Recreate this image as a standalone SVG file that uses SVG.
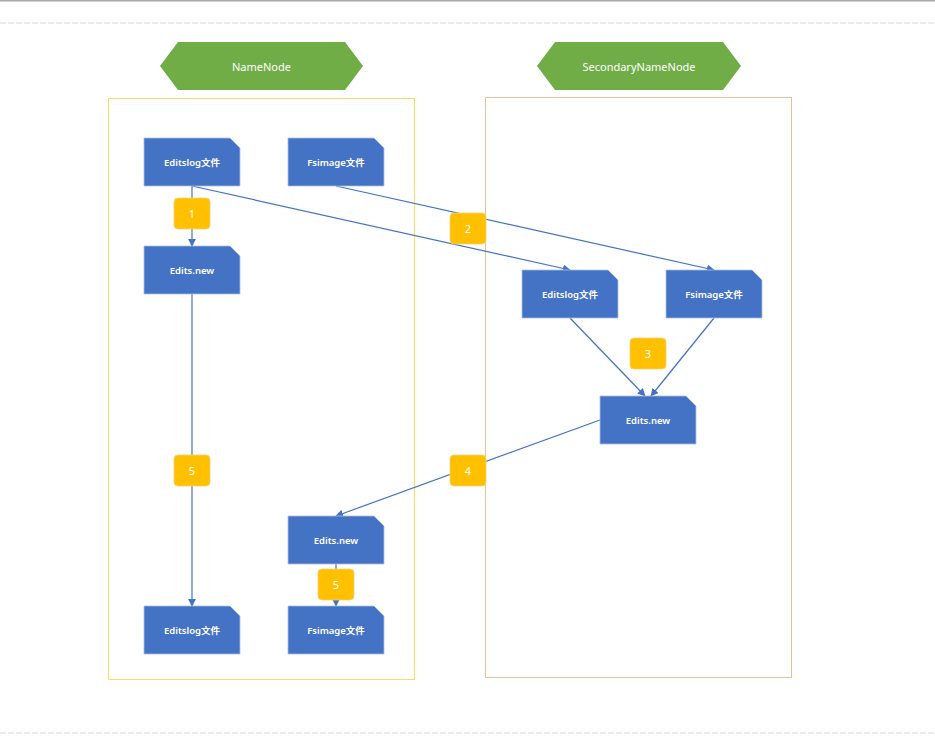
<svg xmlns="http://www.w3.org/2000/svg" width="935" height="756" viewBox="0 0 935 756">
<style>
.hex{fill:#70AD47;}
.ht{fill:#fff;font-family:"Noto Sans","Noto Sans CJK SC",sans-serif;font-size:11px;text-anchor:middle;dominant-baseline:central;}
.box{fill:#4472C4;stroke:#A9BEE3;stroke-width:0.8;}
.bt{fill:#fff;font-family:"Noto Sans","Noto Sans CJK SC",sans-serif;font-size:9.5px;font-weight:600;text-anchor:middle;dominant-baseline:central;}
.badge{fill:#FFC000;stroke:#F2D27A;stroke-width:0.8;}
.nt{fill:#fff;font-family:"Noto Sans",sans-serif;font-size:11px;text-anchor:middle;dominant-baseline:central;}
.ln{stroke:#4472C4;stroke-width:1.2;fill:none;marker-end:url(#ah);}
</style>
<defs>
<marker id="ah" viewBox="0 0 10 10" refX="9" refY="5" markerWidth="8" markerHeight="8" markerUnits="userSpaceOnUse" orient="auto">
<path d="M0,0 L10,5 L0,10 Z" fill="#4472C4"/>
</marker>
</defs>
<rect width="935" height="756" fill="#fff"/>
<line x1="0" y1="0.8" x2="935" y2="0.8" stroke="#A6A6A6" stroke-width="1.5"/>
<line x1="0" y1="23" x2="935" y2="23" stroke="#D9D9D9" stroke-width="1" stroke-dasharray="6,2"/>
<line x1="0" y1="733" x2="935" y2="733" stroke="#D9D9D9" stroke-width="1" stroke-dasharray="6,2"/>

<g id="container-namenode"><rect x="108.5" y="98.5" width="306" height="581" fill="none" stroke="#FFD966" stroke-width="1"/></g>
<g id="container-secondary"><rect x="485.5" y="97.5" width="306" height="580" fill="none" stroke="#EBC193" stroke-width="1"/></g>

<g id="hex-namenode"><polygon class="hex" points="160,66 178,42 345,42 363,66 345,90 178,90"/><text class="ht" x="261.5" y="66">NameNode</text></g>
<g id="hex-secondary"><polygon class="hex" points="537,66 555,42 723,42 741,66 723,90 555,90"/><text class="ht" x="639" y="66">SecondaryNameNode</text></g>

<g id="connectors">
<line class="ln" x1="192" y1="186" x2="192" y2="246"/>
<line class="ln" x1="192" y1="186" x2="570" y2="270"/>
<line class="ln" x1="336" y1="186" x2="714" y2="270"/>
<line class="ln" x1="570" y1="318" x2="645" y2="396"/>
<line class="ln" x1="714" y1="318" x2="651" y2="396"/>
<line class="ln" x1="600" y1="420" x2="336" y2="516"/>
<line class="ln" x1="192" y1="294" x2="192" y2="606"/>
<line class="ln" x1="336" y1="564" x2="336" y2="606"/>
</g>

<g id="n-editslog1"><path class="box" d="M144,138 H230 L240,148 V186 H144 Z"/><text class="bt" x="192" y="162">Editslog文件</text></g>
<g id="n-fsimage1"><path class="box" d="M288,138 H374 L384,148 V186 H288 Z"/><text class="bt" x="336" y="162">Fsimage文件</text></g>
<g id="n-editsnew1"><path class="box" d="M144,246 H230 L240,256 V294 H144 Z"/><text class="bt" x="192" y="270">Edits.new</text></g>
<g id="n-editslog2"><path class="box" d="M522,270 H608 L618,280 V318 H522 Z"/><text class="bt" x="570" y="294">Editslog文件</text></g>
<g id="n-fsimage2"><path class="box" d="M666,270 H752 L762,280 V318 H666 Z"/><text class="bt" x="714" y="294">Fsimage文件</text></g>
<g id="n-editsnew2"><path class="box" d="M600,396 H686 L696,406 V444 H600 Z"/><text class="bt" x="648" y="420">Edits.new</text></g>
<g id="n-editsnew3"><path class="box" d="M288,516 H374 L384,526 V564 H288 Z"/><text class="bt" x="336" y="540">Edits.new</text></g>
<g id="n-editslog3"><path class="box" d="M144,606 H230 L240,616 V654 H144 Z"/><text class="bt" x="192" y="630">Editslog文件</text></g>
<g id="n-fsimage3"><path class="box" d="M288,606 H374 L384,616 V654 H288 Z"/><text class="bt" x="336" y="630">Fsimage文件</text></g>

<g id="b1"><rect class="badge" x="174" y="198" width="36" height="31" rx="4"/><text class="nt" x="192" y="213.5">1</text></g>
<g id="b2"><rect class="badge" x="450" y="213" width="36" height="31" rx="4"/><text class="nt" x="468" y="228.5">2</text></g>
<g id="b3"><rect class="badge" x="630" y="338" width="36" height="31" rx="4"/><text class="nt" x="648" y="353.5">3</text></g>
<g id="b4"><rect class="badge" x="450" y="455" width="36" height="31" rx="4"/><text class="nt" x="468" y="470.5">4</text></g>
<g id="b5a"><rect class="badge" x="174" y="455" width="36" height="31" rx="4"/><text class="nt" x="192" y="470.5">5</text></g>
<g id="b5b"><rect class="badge" x="318" y="569" width="36" height="31" rx="4"/><text class="nt" x="336" y="584.5">5</text></g>
</svg>
